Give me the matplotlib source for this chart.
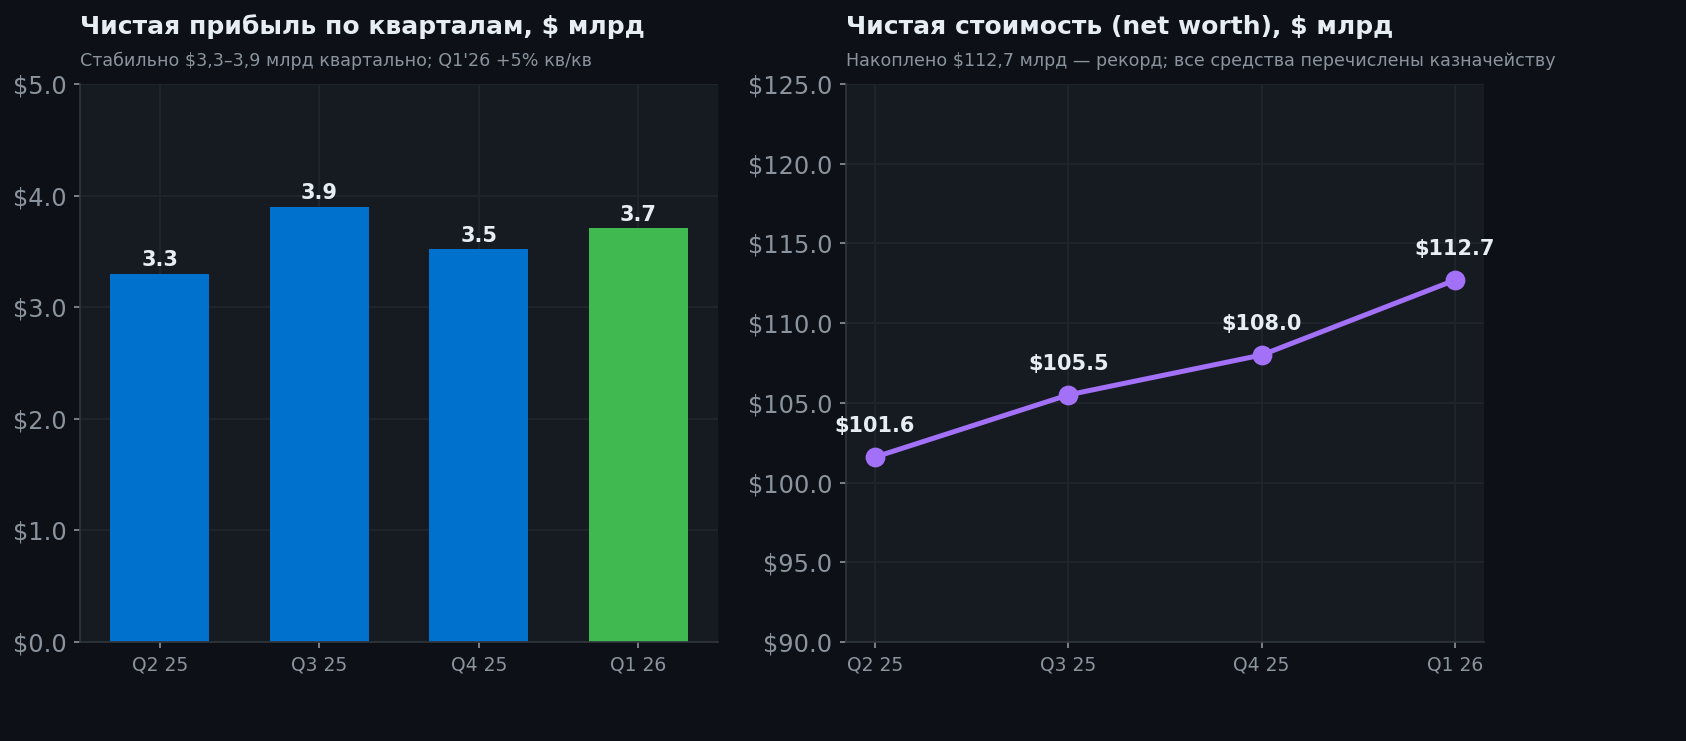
import matplotlib.pyplot as plt
from matplotlib.ticker import FuncFormatter

# данные
quarters = ['Q2 25', 'Q3 25', 'Q4 25', 'Q1 26']
net_income = [3.3, 3.9, 3.52, 3.71]
income_labels = ['3.3', '3.9', '3.5', '3.7']
net_worth = [101.6, 105.5, 108.0, 112.7]

# цвета
bg = '#0d1117'
panel = '#161b22'
grid_c = '#21262d'
spine_c = '#30363d'
text_c = '#e6edf3'
muted = '#8b949e'
blue = '#0071cd'
green = '#3fb950'
purple = '#a371f7'

fig = plt.figure(figsize=(11.24, 4.94), dpi=150, facecolor=bg)
ax1 = fig.add_axes([80 / 1686, 99 / 741, 638 / 1686, 558 / 741])
ax2 = fig.add_axes([846 / 1686, 99 / 741, 638 / 1686, 558 / 741])

for ax in (ax1, ax2):
    ax.set_facecolor(panel)
    ax.grid(True, color=grid_c, linewidth=0.8)
    ax.set_axisbelow(True)
    for side in ('top', 'right'):
        ax.spines[side].set_visible(False)
    for side in ('left', 'bottom'):
        ax.spines[side].set_color(spine_c)
    ax.tick_params(axis='y', colors=muted, labelsize=11.5, length=3)
    ax.tick_params(axis='x', colors=muted, labelsize=9, length=3)

# левый график - чистая прибыль
x = range(len(quarters))
colors = [blue, blue, blue, green]
bars = ax1.bar(x, net_income, width=0.62, color=colors)
for b, lab in zip(bars, income_labels):
    ax1.text(b.get_x() + b.get_width() / 2, b.get_height() + 0.03, lab,
             ha='center', va='bottom', color=text_c, fontsize=10, fontweight='bold')
ax1.set_xlim(-0.5, 3.5)
ax1.set_ylim(0, 5)
ax1.set_yticks([0, 1, 2, 3, 4, 5])
ax1.yaxis.set_major_formatter(FuncFormatter(lambda v, p: f'${v:.1f}'))
ax1.set_xticks(list(x))
ax1.set_xticklabels(quarters)
ax1.text(0, 1.081, 'Чистая прибыль по кварталам, $ млрд', transform=ax1.transAxes,
         color=text_c, fontsize=12, fontweight='bold', va='bottom', ha='left')
ax1.text(0, 1.025, 'Стабильно $3,3–3,9 млрд квартально; Q1\'26 +5% кв/кв',
         transform=ax1.transAxes, color=muted, fontsize=8.4, va='bottom', ha='left')

# правый график - чистая стоимость
ax2.plot(list(x), net_worth, color=purple, linewidth=2.4, marker='o', markersize=8.5)
for xi, v in zip(x, net_worth):
    ax2.annotate(f'${v:.1f}', (xi, v), xytext=(0, 10), textcoords='offset points',
                 ha='center', va='bottom', color=text_c, fontsize=10, fontweight='bold')
ax2.set_xlim(-0.15, 3.15)
ax2.set_ylim(90, 125)
ax2.set_yticks(range(90, 126, 5))
ax2.yaxis.set_major_formatter(FuncFormatter(lambda v, p: f'${v:.1f}'))
ax2.set_xticks(list(x))
ax2.set_xticklabels(quarters)
ax2.text(0, 1.081, 'Чистая стоимость (net worth), $ млрд', transform=ax2.transAxes,
         color=text_c, fontsize=12, fontweight='bold', va='bottom', ha='left')
ax2.text(0, 1.025, 'Накоплено $112,7 млрд — рекорд; все средства перечислены казначейству',
         transform=ax2.transAxes, color=muted, fontsize=8.4, va='bottom', ha='left')

fig.savefig('out.png', dpi=150, facecolor=bg)
